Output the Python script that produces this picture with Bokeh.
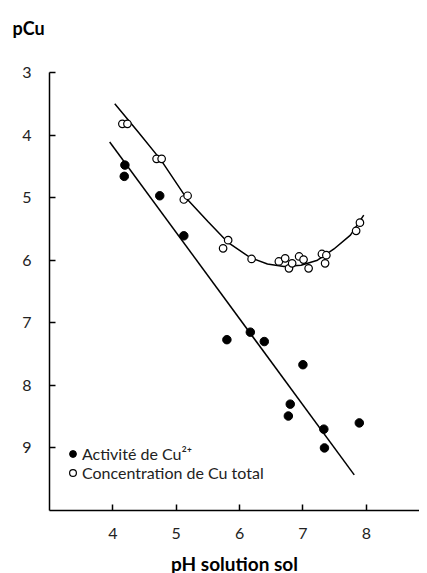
from bokeh.plotting import figure
from bokeh.models import Range1d, FixedTicker, Legend, LegendItem, Title
from bokeh.embed import file_html
from bokeh.resources import INLINE

# Activité de Cu2+ (filled points)
act_ph = [4.19, 4.18, 4.74, 5.12, 5.80, 6.17, 6.39, 7.00, 6.80, 6.77, 7.33, 7.34, 7.89]
act_pcu = [4.48, 4.66, 4.97, 5.61, 7.27, 7.15, 7.30, 7.67, 8.30, 8.49, 8.70, 9.00, 8.60]

# Concentration de Cu total (open points)
tot_ph = [4.15, 4.23, 4.69, 4.77, 5.12, 5.18, 5.74, 5.82, 6.19, 6.62, 6.72, 6.78,
          6.83, 6.94, 7.01, 7.09, 7.30, 7.37, 7.35, 7.84, 7.90]
tot_pcu = [3.82, 3.82, 4.38, 4.38, 5.03, 4.97, 5.81, 5.68, 5.98, 6.02, 5.97, 6.13,
           6.05, 5.94, 5.99, 6.13, 5.90, 5.92, 6.05, 5.53, 5.40]

# fitted line (activity) and fitted curve (total)
fit_act_ph = [3.95, 7.81]
fit_act_pcu = [4.11, 9.43]
fit_tot_ph = [4.03, 4.40, 4.76, 5.17, 5.50, 5.81, 6.17, 6.44, 6.70, 6.97, 7.23, 7.49, 7.75, 7.96]
fit_tot_pcu = [3.50, 3.95, 4.40, 5.02, 5.38, 5.71, 5.96, 6.06, 6.10, 6.08, 6.00, 5.82, 5.60, 5.28]

x_ticks = [4, 5, 6, 7, 8]
y_ticks = [3, 4, 5, 6, 7, 8, 9]

FONT = "Lato"

p = figure(frame_width=370, frame_height=438,
           x_range=Range1d(3, 8.84), y_range=Range1d(10, 3),
           output_backend="svg", toolbar_location=None,
           min_border_left=49, min_border_right=0, min_border_top=72, min_border_bottom=10)
p.outline_line_color = None
p.xgrid.visible = False
p.ygrid.visible = False

# spacer (nearest the frame) then the horizontal y-axis title "pCu"
p.add_layout(Title(text=" ", text_font_size="27px", standoff=0), "above")
p.add_layout(Title(text="pCu", align="left", offset=-37, standoff=4,
                   text_font=FONT, text_font_size="18px", text_font_style="bold",
                   text_color="black"), "above")

for ax in (p.xaxis[0], p.yaxis[0]):
    ax.axis_line_width = 1.5
    ax.axis_line_color = "black"
    ax.major_tick_in = 6
    ax.major_tick_out = 0
    ax.major_tick_line_width = 1.5
    ax.major_tick_line_color = "black"
    ax.minor_tick_line_color = None
    ax.major_label_text_font = FONT
    ax.major_label_text_font_size = "16px"
    ax.major_label_text_color = "#222222"

p.xaxis.ticker = FixedTicker(ticks=x_ticks)
p.yaxis.ticker = FixedTicker(ticks=y_ticks)
p.xaxis.major_label_standoff = 17
p.yaxis.major_label_standoff = 18
p.xaxis.axis_label = "pH solution sol"
p.xaxis.axis_label_text_font = FONT
p.xaxis.axis_label_text_font_size = "19px"
p.xaxis.axis_label_text_font_style = "bold"
p.xaxis.axis_label_text_color = "black"
p.xaxis.axis_label_standoff = 10

p.line(fit_act_ph, fit_act_pcu, line_color="black", line_width=1.5)
p.line(fit_tot_ph, fit_tot_pcu, line_color="black", line_width=1.5)

r_act = p.scatter(act_ph, act_pcu, size=8.5, fill_color="black", line_color="black")
r_tot = p.scatter(tot_ph, tot_pcu, size=7.5, fill_color="white", line_color="black", line_width=1.2)

legend = Legend(items=[LegendItem(label="Activité de Cu²⁺", renderers=[r_act]),
                       LegendItem(label="Concentration de Cu total", renderers=[r_tot])],
                location=(15, 28), orientation="vertical")
legend.background_fill_alpha = 0
legend.border_line_alpha = 0
legend.padding = 0
legend.margin = 0
legend.spacing = 0
legend.glyph_width = 17
legend.glyph_height = 17
legend.label_height = 17
legend.label_standoff = 1
legend.label_text_font = FONT
legend.label_text_font_size = "16px"
legend.label_text_color = "#222222"
p.add_layout(legend, "center")

open("out.html", "w").write(file_html(p, INLINE))
